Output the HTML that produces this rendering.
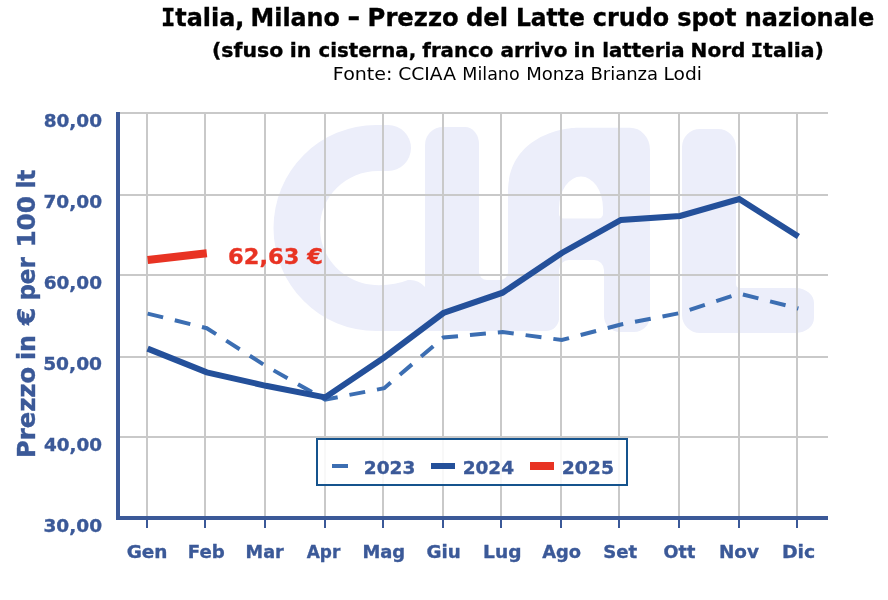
<!DOCTYPE html>
<html lang="it">
<head>
<meta charset="utf-8">
<title>Italia, Milano - Prezzo del Latte crudo spot nazionale</title>
<style>
html,body{margin:0;padding:0;background:#fff;}
body{width:888px;height:600px;overflow:hidden;}
svg{display:block;}
text{font-family:"DejaVu Sans", "Liberation Sans", sans-serif;}
.b{font-weight:bold;}
.ax{fill:#3b5998;font-weight:bold;}
</style>
</head>
<body>
<svg width="888" height="600" viewBox="0 0 888 600">
<rect x="0" y="0" width="888" height="600" fill="#ffffff"/>

<g fill="#eceefa" stroke="none">
<path d="M376 125 H388 A23 23 0 0 1 388 171 H378 C346 171 320 196.5 320 228 C320 259.5 346 285.2 379 285.2 Q396 285 408 280 Q418 279 425 287 V331 H376 A102.5 103 0 0 1 273.5 228 A102.5 103 0 0 1 376 125 Z"/>
<path d="M425 331 V145 A18 18 0 0 1 443 127 H465 A14 17 0 0 1 479 144 V331 Z"/>
<path d="M425 280 H559 V318 A13 13 0 0 1 546 331 H425 Z"/>
<path fill-rule="evenodd" d="M508 320 V192 C508 140 557 127.7 578 127.7 H630 A20 22 0 0 1 650 149.7 V316 A16 16 0 0 1 634 332 H620 A16 16 0 0 1 604 316 V270 A10 10 0 0 0 594 260 H569 A10 10 0 0 0 559 270 V320 Z
M559 214 V208.5 A22 32 0 0 1 603 208.5 V214 A4.5 4.5 0 0 1 598.5 218.5 H563.5 A4.5 4.5 0 0 1 559 214 Z"/>
<path d="M479 272 V280 H487 A8 8 0 0 1 479 272 Z"/>
<path d="M508 272 V280 H500 A8 8 0 0 0 508 272 Z"/>
<path d="M682 147 A18 18 0 0 1 700 129 H718 A18 18 0 0 1 736 147 V284 A4 4 0 0 0 740 288 H796 A18 15 0 0 1 814 303 V318 A18 15 0 0 1 796 333 H700 A18 18 0 0 1 682 315 Z"/>
</g>

<g fill="#c9c9c9">
<rect x="118" y="112" width="710" height="2"/>
<rect x="118" y="194" width="710" height="2"/>
<rect x="118" y="274" width="710" height="2"/>
<rect x="118" y="356" width="710" height="2"/>
<rect x="118" y="436" width="710" height="2"/>
<rect x="146" y="112" width="2" height="406"/>
<rect x="204" y="112" width="2" height="406"/>
<rect x="264" y="112" width="2" height="406"/>
<rect x="324" y="112" width="2" height="406"/>
<rect x="382" y="112" width="2" height="406"/>
<rect x="442" y="112" width="2" height="406"/>
<rect x="500" y="112" width="2" height="406"/>
<rect x="560" y="112" width="2" height="406"/>
<rect x="618" y="112" width="2" height="406"/>
<rect x="678" y="112" width="2" height="406"/>
<rect x="738" y="112" width="2" height="406"/>
<rect x="796" y="112" width="2" height="406"/>
</g>
<polyline points="147.6,313.6 206.8,328.2 265.9,366.0 325.1,399.6 384.2,388.2 443.4,337.5 502.6,332.0 561.8,340.0 620.9,324.5 680.1,313.0 739.2,293.5 798.4,308.5" fill="none" stroke="#3c6eb2" stroke-width="4" stroke-dasharray="16 12" stroke-linejoin="miter"/>
<polyline points="147.6,348.6 206.8,372.3 265.9,385.8 325.1,397.4 384.2,357.5 443.4,313.0 502.6,292.7 561.8,253.0 620.9,220.0 680.1,216.0 739.2,199.0 798.4,236.5" fill="none" stroke="#24509a" stroke-width="6" stroke-linejoin="miter"/>
<polyline points="147.6,260 206.8,253.3" fill="none" stroke="#e83323" stroke-width="8"/>
<g fill="#3b5998">
<rect x="116" y="112" width="4" height="408"/>
<rect x="116" y="516" width="712" height="4"/>
<rect x="146" y="518" width="2" height="10"/>
<rect x="204" y="518" width="2" height="10"/>
<rect x="264" y="518" width="2" height="10"/>
<rect x="324" y="518" width="2" height="10"/>
<rect x="382" y="518" width="2" height="10"/>
<rect x="442" y="518" width="2" height="10"/>
<rect x="500" y="518" width="2" height="10"/>
<rect x="560" y="518" width="2" height="10"/>
<rect x="618" y="518" width="2" height="10"/>
<rect x="678" y="518" width="2" height="10"/>
<rect x="738" y="518" width="2" height="10"/>
<rect x="796" y="518" width="2" height="10"/>
</g>
<rect x="317" y="439" width="310" height="46" fill="#ffffff" fill-opacity="0.86" stroke="#15538d" stroke-width="2"/>
<rect x="332" y="464" width="16" height="4" fill="#3c6eb2"/>
<rect x="431" y="463" width="24" height="6" fill="#24509a"/>
<rect x="530" y="462" width="24" height="8" fill="#e83323"/>
<text x="363.86" y="474" font-size="18" font-weight="bold" stroke="#3b5998" stroke-width="0.35" fill="#3b5998" textLength="51.44" lengthAdjust="spacingAndGlyphs">2023</text>
<text x="462.66" y="474" font-size="18" font-weight="bold" stroke="#3b5998" stroke-width="0.35" fill="#3b5998" textLength="51.42" lengthAdjust="spacingAndGlyphs">2024</text>
<text x="561.73" y="474" font-size="18" font-weight="bold" stroke="#3b5998" stroke-width="0.35" fill="#3b5998" textLength="52.28" lengthAdjust="spacingAndGlyphs">2025</text>
<text x="43.67" y="126.8" font-size="18" font-weight="bold" stroke="#3b5998" stroke-width="0.35" fill="#3b5998" textLength="58.39" lengthAdjust="spacingAndGlyphs">80,00</text>
<text x="43.41" y="207.8" font-size="18" font-weight="bold" stroke="#3b5998" stroke-width="0.35" fill="#3b5998" textLength="58.65" lengthAdjust="spacingAndGlyphs">70,00</text>
<text x="43.67" y="288.8" font-size="18" font-weight="bold" stroke="#3b5998" stroke-width="0.35" fill="#3b5998" textLength="58.39" lengthAdjust="spacingAndGlyphs">60,00</text>
<text x="43.15" y="369.8" font-size="18" font-weight="bold" stroke="#3b5998" stroke-width="0.35" fill="#3b5998" textLength="58.92" lengthAdjust="spacingAndGlyphs">50,00</text>
<text x="43.93" y="450.8" font-size="18" font-weight="bold" stroke="#3b5998" stroke-width="0.35" fill="#3b5998" textLength="58.12" lengthAdjust="spacingAndGlyphs">40,00</text>
<text x="43.41" y="531.8" font-size="18" font-weight="bold" stroke="#3b5998" stroke-width="0.35" fill="#3b5998" textLength="58.65" lengthAdjust="spacingAndGlyphs">30,00</text>
<text x="126.67" y="558.0" font-size="18" font-weight="bold" stroke="#3b5998" stroke-width="0.35" fill="#3b5998" textLength="40.86" lengthAdjust="spacingAndGlyphs">Gen</text>
<text x="187.73" y="558.0" font-size="18" font-weight="bold" stroke="#3b5998" stroke-width="0.35" fill="#3b5998" textLength="37.00" lengthAdjust="spacingAndGlyphs">Feb</text>
<text x="245.59" y="558.0" font-size="18" font-weight="bold" stroke="#3b5998" stroke-width="0.35" fill="#3b5998" textLength="38.15" lengthAdjust="spacingAndGlyphs">Mar</text>
<text x="306.76" y="558.0" font-size="18" font-weight="bold" stroke="#3b5998" stroke-width="0.35" fill="#3b5998" textLength="33.59" lengthAdjust="spacingAndGlyphs">Apr</text>
<text x="362.46" y="558.0" font-size="18" font-weight="bold" stroke="#3b5998" stroke-width="0.35" fill="#3b5998" textLength="42.74" lengthAdjust="spacingAndGlyphs">Mag</text>
<text x="426.49" y="558.0" font-size="18" font-weight="bold" stroke="#3b5998" stroke-width="0.35" fill="#3b5998" textLength="34.25" lengthAdjust="spacingAndGlyphs">Giu</text>
<text x="483.09" y="558.0" font-size="18" font-weight="bold" stroke="#3b5998" stroke-width="0.35" fill="#3b5998" textLength="38.37" lengthAdjust="spacingAndGlyphs">Lug</text>
<text x="542.15" y="558.0" font-size="18" font-weight="bold" stroke="#3b5998" stroke-width="0.35" fill="#3b5998" textLength="38.83" lengthAdjust="spacingAndGlyphs">Ago</text>
<text x="603.34" y="558.0" font-size="18" font-weight="bold" stroke="#3b5998" stroke-width="0.35" fill="#3b5998" textLength="33.94" lengthAdjust="spacingAndGlyphs">Set</text>
<text x="663.62" y="558.0" font-size="18" font-weight="bold" stroke="#3b5998" stroke-width="0.35" fill="#3b5998" textLength="31.74" lengthAdjust="spacingAndGlyphs">Ott</text>
<text x="718.91" y="558.0" font-size="18" font-weight="bold" stroke="#3b5998" stroke-width="0.35" fill="#3b5998" textLength="40.02" lengthAdjust="spacingAndGlyphs">Nov</text>
<text x="781.97" y="558.0" font-size="18" font-weight="bold" stroke="#3b5998" stroke-width="0.35" fill="#3b5998" textLength="33.27" lengthAdjust="spacingAndGlyphs">Dic</text>
<text x="228.12" y="263.6" font-size="22" font-weight="bold" stroke="#e83323" stroke-width="0.35" fill="#e83323" textLength="94.78" lengthAdjust="spacingAndGlyphs">62,63 €</text>
<text font-size="24" font-weight="bold" stroke="#000" stroke-width="0.35" fill="#000"><tspan x="161.01" y="25.7" textLength="83.36" lengthAdjust="spacingAndGlyphs"><tspan style="font-family:'DejaVu Sans Mono','Liberation Mono',monospace">I</tspan>talia,</tspan> <tspan x="250.57" y="25.7" textLength="89.33" lengthAdjust="spacingAndGlyphs">Milano</tspan> <tspan x="347.27" y="24.6" textLength="13.03" lengthAdjust="spacingAndGlyphs">-</tspan> <tspan x="367.63" y="25.7" textLength="91.13" lengthAdjust="spacingAndGlyphs">Prezzo</tspan> <tspan x="465.99" y="25.7" textLength="42.17" lengthAdjust="spacingAndGlyphs">del</tspan> <tspan x="515.91" y="25.7" textLength="68.88" lengthAdjust="spacingAndGlyphs">Latte</tspan> <tspan x="592.81" y="25.7" textLength="76.37" lengthAdjust="spacingAndGlyphs">crudo</tspan> <tspan x="677.15" y="25.7" textLength="59.44" lengthAdjust="spacingAndGlyphs">spot</tspan> <tspan x="744.80" y="25.7" textLength="129.44" lengthAdjust="spacingAndGlyphs">nazionale</tspan></text>
<text font-size="20" font-weight="bold" stroke="#000" stroke-width="0.35" fill="#000"><tspan x="212.01" y="57.3" textLength="71.20" lengthAdjust="spacingAndGlyphs">(sfuso</tspan> <tspan x="289.71" y="57.3" textLength="21.63" lengthAdjust="spacingAndGlyphs">in</tspan> <tspan x="318.46" y="57.3" textLength="97.70" lengthAdjust="spacingAndGlyphs">cisterna,</tspan> <tspan x="422.31" y="57.3" textLength="70.99" lengthAdjust="spacingAndGlyphs">franco</tspan> <tspan x="500.45" y="57.3" textLength="67.01" lengthAdjust="spacingAndGlyphs">arrivo</tspan> <tspan x="573.61" y="57.3" textLength="21.63" lengthAdjust="spacingAndGlyphs">in</tspan> <tspan x="602.27" y="57.3" textLength="82.22" lengthAdjust="spacingAndGlyphs">latteria</tspan> <tspan x="690.64" y="57.3" textLength="54.83" lengthAdjust="spacingAndGlyphs">Nord</tspan> <tspan x="750.81" y="57.3" textLength="73.13" lengthAdjust="spacingAndGlyphs"><tspan style="font-family:'DejaVu Sans Mono','Liberation Mono',monospace">I</tspan>talia)</tspan></text>
<text font-size="18" fill="#000"><tspan x="332.85" y="79.6" textLength="59.67" lengthAdjust="spacingAndGlyphs">Fonte:</tspan> <tspan x="398.26" y="79.6" textLength="57.68" lengthAdjust="spacingAndGlyphs">CCIAA</tspan> <tspan x="462.30" y="79.6" textLength="57.36" lengthAdjust="spacingAndGlyphs">Milano</tspan> <tspan x="526.24" y="79.6" textLength="58.65" lengthAdjust="spacingAndGlyphs">Monza</tspan> <tspan x="590.45" y="79.6" textLength="67.62" lengthAdjust="spacingAndGlyphs">Brianza</tspan> <tspan x="663.59" y="79.6" textLength="38.42" lengthAdjust="spacingAndGlyphs">Lodi</tspan></text>
<text transform="rotate(-90)" font-size="24" font-weight="bold" stroke="#3b5998" stroke-width="0.35" fill="#3b5998"><tspan x="-458.08" y="35.3" textLength="91.23" lengthAdjust="spacingAndGlyphs">Prezzo</tspan> <tspan x="-360.08" y="35.3" textLength="25.08" lengthAdjust="spacingAndGlyphs">in</tspan> <tspan x="-325.04" y="35.3" textLength="17.52" lengthAdjust="spacingAndGlyphs">€</tspan> <tspan x="-300.61" y="35.3" textLength="43.36" lengthAdjust="spacingAndGlyphs">per</tspan> <tspan x="-247.62" y="35.3" textLength="51.46" lengthAdjust="spacingAndGlyphs">100</tspan> <tspan x="-188.62" y="35.3" textLength="18.96" lengthAdjust="spacingAndGlyphs">lt</tspan></text>
</svg>
</body>
</html>
